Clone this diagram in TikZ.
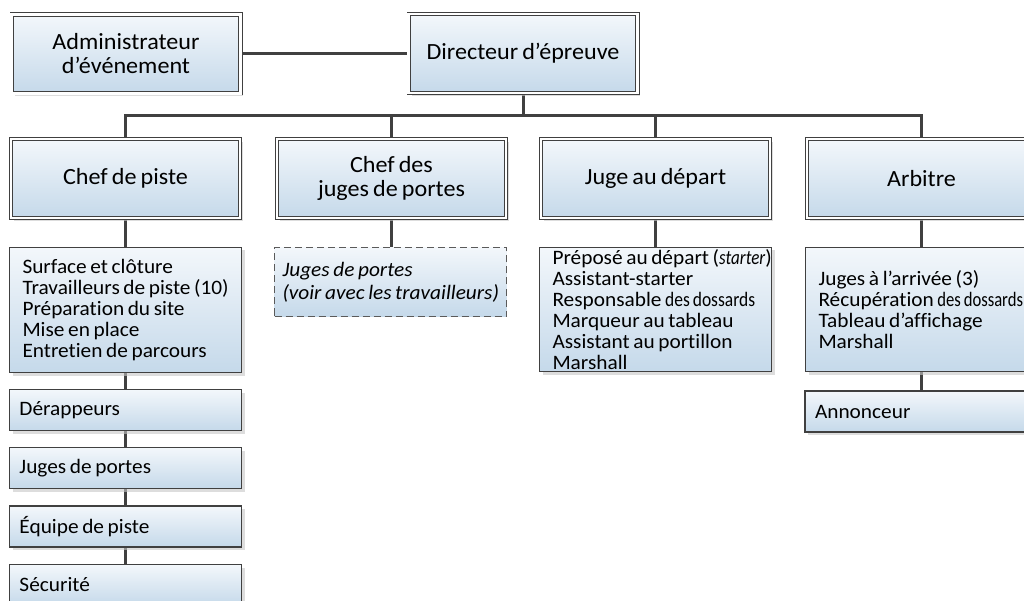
\documentclass[tikz,border=0pt]{standalone}
\usepackage{fontspec}
\setmainfont{Carlito}[Ligatures={NoCommon}, WordSpace={0.75}, FakeStretch=1.04]
\usetikzlibrary{shadows,backgrounds,calc}
\definecolor{linecol}{HTML}{404040}
\definecolor{bordercol}{HTML}{404040}
\definecolor{fillTop}{HTML}{F3F7FB}
\definecolor{fillBot}{HTML}{C5D9EA}
\definecolor{dashcol}{HTML}{5A5A5A}
\begin{document}
\begin{tikzpicture}[x=1pt,y=-1pt,
  conn/.style={draw=linecol, line width=3pt},
  boxshade/.style={top color=fillTop, bottom color=fillBot,
    drop shadow={shadow xshift=3pt, shadow yshift=-3pt, fill=black!22, opacity=0.6}},
  headbox/.style={boxshade, draw=bordercol, line width=0.8pt, double=white,
    double distance=2.6pt, minimum width=228.8pt, minimum height=78.8pt,
    inner sep=0pt, align=center, font=\fontsize{23.2}{24}\selectfont},
  listbox/.style={boxshade, draw=bordercol, line width=1.1pt, minimum width=232pt,
    text width=206pt, inner xsep=13pt, inner ysep=0pt, align=flush left,
    font=\fontsize{20.5}{21}\selectfont},
  smallbox/.style={boxshade, draw=bordercol, line width=1.1pt, minimum width=232pt,
    minimum height=41pt, text width=212pt, inner xsep=10pt, inner ysep=0pt,
    align=flush left, font=\fontsize{20.5}{21}\selectfont},
  dashbox/.style={top color=fillTop, bottom color=fillBot, draw=dashcol,
    line width=1.1pt, dash pattern=on 7pt off 4pt, minimum width=232pt,
    minimum height=69pt, text width=216pt, inner xsep=8pt, inner ysep=0pt,
    align=flush left, font=\fontsize{20.5}{23}\selectfont\itshape}
]
\useasboundingbox (0,0) rectangle (1024,601);
\clip (0,0) rectangle (1024,601);

% top level
\node[headbox] (admin) at (126,54) {Administrateur\\d’événement};
\node[headbox] (dir) at (523,53.5) {Directeur d’épreuve};

% second level
\node[headbox] (cdp) at (125.5,178.5) {Chef de piste};
\node[headbox] (cjp) at (391.5,178.5) {Chef des\\juges de portes};
\node[headbox] (jad) at (655.5,178.5) {Juge au départ};
\node[headbox] (arb) at (921.5,178.5) {Arbitre};

% third level
\node[listbox, minimum height=125pt] (cdpL) at (125.5,310)
  {\mbox{Surface et clôture}\\\mbox{Travailleurs de piste (10)}\\\mbox{Préparation du site}\\\mbox{Mise en place}\\\mbox{Entretien de parcours}};
\node[dashbox] (cjpL) at (390.5,282)
  {\mbox{Juges de portes}\\\mbox{(voir avec les travailleurs)}};
\node[listbox, minimum height=124pt] (jadL) at (655.5,309.5)
  {\mbox{Préposé au départ (\scalebox{0.8}[1]{\textit{starter}})}\\\mbox{Assistant-starter}\\\mbox{Responsable \scalebox{0.82}[1]{des dossards}}\\\mbox{Marqueur au tableau}\\\mbox{Assistant au portillon}\\\mbox{Marshall}};
\node[listbox, minimum height=124pt] (arbL) at (921.5,309.5)
  {\mbox{Juges à l’arrivée (3)}\\\mbox{Récupération \scalebox{0.78}[1]{des dossards}}\\\mbox{Tableau d’affichage}\\\mbox{Marshall}};

% chains below
\node[smallbox] (derap) at (125.5,410) {Dérappeurs};
\node[smallbox] (jdp) at (125.5,468) {Juges de portes};
\node[smallbox] (equipe) at (125.5,526.5) {Équipe de piste};
\node[smallbox] (secu) at (125.5,585) {Sécurité};
\node[smallbox] (annon) at (921,411.5) {Annonceur};

% connectors
\begin{scope}[on background layer]
  \coordinate (bus) at (0,116);
  \draw[conn] (admin.east) -- (admin.east -| dir.west);
  \draw[conn] (dir.south) -- (dir.south |- bus);
  \draw[conn] (cdp.north) -- (cdp.north |- bus) -- (arb.north |- bus) -- (arb.north);
  \draw[conn] (cjp.north) -- (cjp.north |- bus);
  \draw[conn] (jad.north) -- (jad.north |- bus);
  \draw[conn] (cdp.south) -- (cdpL.north);
  \draw[conn] (cjp.south) -- (cjp.south |- cjpL.north);
  \draw[conn] (jad.south) -- (jadL.north);
  \draw[conn] (arb.south) -- (arbL.north);
  \draw[conn] (cdpL.south) -- (derap.north);
  \draw[conn] (derap.south) -- (jdp.north);
  \draw[conn] (jdp.south) -- (equipe.north);
  \draw[conn] (equipe.south) -- (secu.north);
  \draw[conn] (arbL.south) -- (arbL.south |- annon.north);
\end{scope}
\end{tikzpicture}
\end{document}
